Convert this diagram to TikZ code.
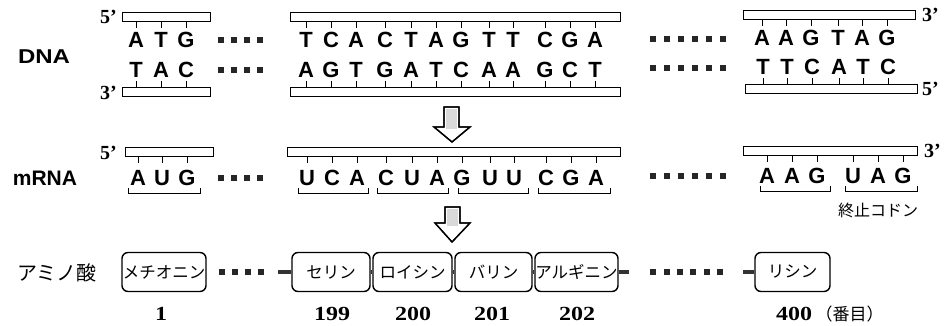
\documentclass[tikz,border=0pt]{standalone}
\usepackage{graphicx}
\usepackage{fontspec}
\setmainfont{Liberation Serif}
\newfontfamily\basefont{Liberation Sans}
\newfontfamily\jpfont{Noto Sans CJK JP}
% a row of small filled squares: x positions, y
\newcommand\sqrow[2]{\foreach \x in {#1} \fill[dotsq] (\x-3,#2-3) rectangle (\x+3,#2+3);}
\begin{document}
\begin{tikzpicture}[x=1pt,y=-1pt,
  base/.style={font=\basefont\bfseries\fontsize{22}{22}\selectfont, inner sep=0pt,
               text height=15.8pt, text depth=0pt},
  strand/.style={draw, line width=0.9pt, fill=white, inner sep=0pt, minimum height=9pt},
  tick/.style={line width=0.8pt},
  prime/.style={font=\bfseries\fontsize{20}{20}\selectfont, inner sep=0pt},
  rowlabel/.style={font=\basefont\bfseries\fontsize{20}{20}\selectfont, inner sep=0pt},
  dotsq/.style={fill=black!85},
  brk/.style={line width=1pt},
  aa/.style={draw, rounded corners=6pt, line width=1.4pt, minimum height=39pt, inner sep=0pt,
             font=\jpfont\fontsize{16.5}{16.5}\selectfont},
  link/.style={line width=4pt, black!80},
  num/.style={font=\bfseries\fontsize{20}{20}\selectfont, inner sep=0pt,
              text height=13.5pt, text depth=0pt},
  bigarrow/.style={line width=1.3pt, fill=white},
]
\useasboundingbox (0,0) rectangle (948,326);

% ---------------- row labels ----------------
\node[rowlabel] (lDNA) at (44,57) {\scalebox{1.2}[1]{DNA}};
\node[rowlabel, font=\basefont\bfseries\fontsize{21}{21}\selectfont] (lRNA) at (45,178) {mRNA};
\node[inner sep=0pt, font=\jpfont\fontsize{20}{20}\selectfont] (lAA) at (57,273) {アミノ酸};

% ---------------- DNA double strand ----------------
\node[strand, minimum width=88pt]  (dtL) at (166,17) {};
\node[strand, minimum width=330pt] (dtM) at (455,17) {};
\node[strand, minimum width=172pt] (dtR) at (829,15) {};
\node[strand, minimum width=88pt]  (dbL) at (166,92) {};
\node[strand, minimum width=330pt] (dbM) at (455,92) {};
\node[strand, minimum width=172pt] (dbR) at (831,89) {};

\node[prime, anchor=east] (p1) at (117,17) {5’};
\node[prime, anchor=east] (p2) at (117,93) {3’};
\node[prime, anchor=west] (p3) at (922,15) {3’};
\node[prime, anchor=west] (p4) at (922,89) {5’};

\foreach \c/\x [count=\i] in {A/136,T/161,G/186}
  \node[base] (a\i) at (\x,40) {\c};
\foreach \c/\x [count=\i] in {T/136,A/161,C/186}
  \node[base] (b\i) at (\x,70) {\c};
\foreach \c/\x [count=\i] in {T/306,C/331,A/356,C/385,T/411,A/436,G/461,T/489,T/513,C/545,G/570,A/595}
  \node[base] (c\i) at (\x,40) {\c};
\foreach \c/\x [count=\i] in {A/306,G/331,T/356,G/385,A/411,T/436,C/461,A/489,A/513,G/545,C/570,T/595}
  \node[base] (d\i) at (\x,70) {\c};
\foreach \c/\x [count=\i] in {A/762,A/786,G/811,T/838,A/862,G/887}
  \node[base] (e\i) at (\x,38) {\c};
\foreach \c/\x [count=\i] in {T/763,T/787,C/812,A/839,T/863,C/888}
  \node[base] (f\i) at (\x,67) {\c};

\foreach \i in {1,2,3} {
  \draw[tick] (a\i.north |- dtL.south) -- ++(0,6);
  \draw[tick] (b\i.south |- dbL.north) -- ++(0,-6);
}
\foreach \i in {1,...,12} {
  \draw[tick] (c\i.north |- dtM.south) -- ++(0,6);
  \draw[tick] (d\i.south |- dbM.north) -- ++(0,-6);
}
\foreach \i in {1,...,6} {
  \draw[tick] (e\i.north |- dtR.south) -- ++(0,6);
  \draw[tick] (f\i.south |- dbR.north) -- ++(0,-6);
}

\sqrow{221,234,247,260}{40}
\sqrow{221,234,247,260}{70}
\sqrow{653,667,681,695,709,723}{39}
\sqrow{653,667,681,695,709,723}{68}

% ---------------- transcription arrow ----------------
\draw[bigarrow] (444,107) -- (459,107) -- (459,127) -- (470,127) -- (452,142)
  -- (434,127) -- (444,127) -- cycle;
\fill[black!15] (446,109) rectangle (457,129);
\draw[line width=1.3pt] (444,107) -- (459,107) -- (459,127) -- (470,127) -- (452,142)
  -- (434,127) -- (444,127) -- cycle;

% ---------------- mRNA ----------------
\node[strand, minimum width=88pt]  (mL) at (169,152) {};
\node[strand, minimum width=333pt] (mM) at (454,152) {};
\node[strand, minimum width=174pt] (mR) at (830,151) {};
\node[prime, anchor=east] (p5) at (117,153) {5’};
\node[prime, anchor=west] (p6) at (924,151) {3’};

\foreach \c/\x [count=\i] in {A/138,U/162,G/187}
  \node[base] (g\i) at (\x,178) {\c};
\foreach \c/\x [count=\i] in {U/307,C/332,A/357,C/386,U/412,A/437,G/462,U/490,U/514,C/546,G/571,A/596}
  \node[base] (h\i) at (\x,178) {\c};
\foreach \c/\x [count=\i] in {A/767,A/792,G/817,U/853,A/878,G/903}
  \node[base] (k\i) at (\x,176) {\c};

\foreach \i in {1,2,3} \draw[tick] (g\i.north |- mL.south) -- ++(0,6);
\foreach \i in {1,...,12} \draw[tick] (h\i.north |- mM.south) -- ++(0,6);
\foreach \i in {1,...,6} \draw[tick] (k\i.north |- mR.south) -- ++(0,6);

% codon brackets
\foreach \xa/\xb/\y in {128/200/193, 298/368/193, 377/448/193, 458/528/193, 538/610/193,
                       760/830/191, 845/917/191}
  \draw[brk] (\xa,\y-5) -- (\xa,\y) -- (\xb,\y) -- (\xb,\y-5);

\node[inner sep=0pt, font=\jpfont\fontsize{16}{16}\selectfont] (stop) at (878,210) {終止コドン};

\sqrow{221,234,247,260}{178}
\sqrow{653,667,681,695,709,723}{176}

% ---------------- translation arrow ----------------
\draw[bigarrow] (445,207) -- (460,207) -- (460,223) -- (470,223) -- (452,242)
  -- (435,223) -- (445,223) -- cycle;
\fill[black!15] (447,209) rectangle (458,226);
\draw[line width=1.3pt] (445,207) -- (460,207) -- (460,223) -- (470,223) -- (452,242)
  -- (435,223) -- (445,223) -- cycle;

% ---------------- amino acid chain ----------------
\node[aa, minimum width=84pt] (met) at (164,272) {メチオニン};
\node[aa, minimum width=78pt] (ser) at (331,272) {セリン};
\node[aa, minimum width=79pt] (leu) at (412.5,272) {ロイシン};
\node[aa, minimum width=77pt] (val) at (493.5,272) {バリン};
\node[aa, minimum width=83pt] (arg) at (576.5,272) {アルギニン};
\node[aa, minimum width=75pt] (lys) at (792.5,272) {リシン};

\coordinate (serIn) at (278,272);
\coordinate (argOut) at (629,272);
\coordinate (lysIn) at (743,272);
\draw[link] (serIn) -- (ser.west);
\draw[link] (ser.east) -- (leu.west);
\draw[link] (leu.east) -- (val.west);
\draw[link] (val.east) -- (arg.west);
\draw[link] (arg.east) -- (argOut);
\draw[link] (lysIn) -- (lys.west);
\sqrow{222,235,248,261}{272}
\sqrow{653,667,680,693,707,720}{272}

\node[num] (n1)   at (161,314) {\scalebox{1.2}[1]{1}};
\node[num] (n199) at (332,314) {\scalebox{1.2}[1]{199}};
\node[num] (n200) at (413,314) {\scalebox{1.2}[1]{200}};
\node[num] (n201) at (492,314) {\scalebox{1.2}[1]{201}};
\node[num] (n202) at (577,314) {\scalebox{1.2}[1]{202}};
\node[num, anchor=west] (n400) at (776,314)
  {\scalebox{1.2}[1]{400}\,{\jpfont\mdseries\fontsize{17}{17}\selectfont（番目）}};
\end{tikzpicture}
\end{document}
